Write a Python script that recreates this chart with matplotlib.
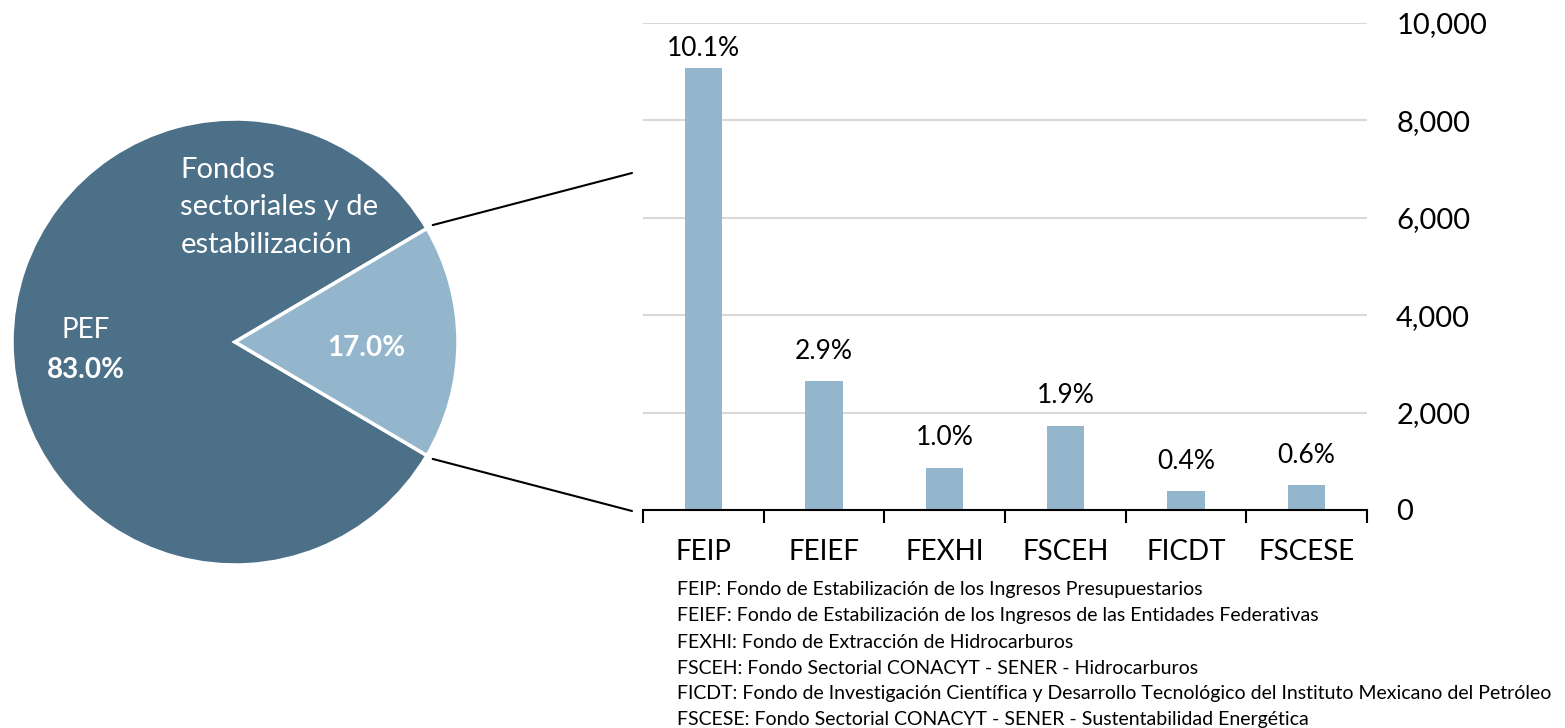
import numpy as np
import matplotlib
matplotlib.use("Agg")
import matplotlib.pyplot as plt
from matplotlib.patches import ConnectionPatch

plt.rcParams["font.family"] = ["Lato", "DejaVu Sans"]

# pie data
pie_labels = ["PEF", "Fondos sectoriales y de estabilización"]
pie_shares = [83.0, 17.0]

# bar data (millones de pesos)
funds = ["FEIP", "FEIEF", "FEXHI", "FSCEH", "FICDT", "FSCESE"]
amounts = [9080, 2640, 870, 1730, 380, 510]
pct_labels = ["10.1%", "2.9%", "1.0%", "1.9%", "0.4%", "0.6%"]

notes = [
    "FEIP: Fondo de Estabilización de los Ingresos Presupuestarios",
    "FEIEF: Fondo de Estabilización de los Ingresos de las Entidades Federativas",
    "FEXHI: Fondo de Extracción de Hidrocarburos",
    "FSCEH: Fondo Sectorial CONACYT - SENER - Hidrocarburos",
    "FICDT: Fondo de Investigación Científica y Desarrollo Tecnológico del Instituto Mexicano del Petróleo",
    "FSCESE: Fondo Sectorial CONACYT - SENER - Sustentabilidad Energética",
]

dark = "#4D7089"
light = "#94B6CD"

W, H = 1565, 728
fig = plt.figure(figsize=(W / 100, H / 100), dpi=100)

def px_rect(left, top, width, height):
    return [left / W, (H - top - height) / H, width / W, height / H]

# ---- pie ----
axp = fig.add_axes(px_rect(12, 119, 446, 446))
half = pie_shares[1] / 100 * 180
wedges, _ = axp.pie(pie_shares, colors=[dark, light], startangle=half,
                    counterclock=True, radius=1,
                    wedgeprops=dict(edgecolor="white", linewidth=2.5))
axp.set_xlim(-1, 1)
axp.set_ylim(-1, 1)
axp.set_aspect("equal")
axp.axis("off")

axp.text(-0.245, 0.605, "Fondos\nsectoriales y de\nestabilización", color="white",
         fontsize=21, ha="left", va="center", linespacing=1.55)
axp.text(-0.67, 0.055, pie_labels[0], color="white", fontsize=20, ha="center", va="center")
axp.text(-0.67, -0.125, f"{pie_shares[0]:.1f}%", color="white", fontsize=20,
         fontweight="bold", ha="center", va="center")
axp.text(0.59, -0.025, f"{pie_shares[1]:.1f}%", color="white", fontsize=20,
         fontweight="bold", ha="center", va="center")

# ---- bars ----
axb = fig.add_axes(px_rect(643, 22.7, 724, 487.3))
x = np.arange(len(funds))
axb.bar(x, amounts, width=0.31, color=light, zorder=3)
axb.set_xlim(-0.5, len(funds) - 0.5)
axb.set_ylim(0, 10000)
axb.set_yticks(np.arange(0, 10001, 2000))
axb.set_yticklabels([f"{v:,}" for v in range(0, 10001, 2000)], fontsize=21)
axb.yaxis.tick_right()
axb.tick_params(axis="y", length=0, pad=21)
axb.set_xticks(x)
axb.set_xticklabels(funds, fontsize=20)
axb.set_xticks(np.arange(-0.5, len(funds)), minor=True)
axb.tick_params(axis="x", which="major", length=0, pad=21)
axb.tick_params(axis="x", which="minor", length=9, width=1.5, direction="out", color="black")
axb.grid(axis="y", color="#D9D9D9", linewidth=1.5, zorder=0)
for s in ["top", "left", "right"]:
    axb.spines[s].set_visible(False)
axb.spines["bottom"].set_linewidth(1.5)
axb.spines["bottom"].set_zorder(4)
for xi, v, lab in zip(x, amounts, pct_labels):
    axb.text(xi, min(v + 610, 9480), lab, ha="center", va="center", fontsize=19)

# ---- connector lines ----
theta = np.deg2rad(half)
for sign, end in [(1, (632, 173)), (-1, (632, 511))]:
    start = (1.03 * np.cos(theta), sign * 1.03 * np.sin(theta))
    con = ConnectionPatch(xyA=start, coordsA=axp.transData,
                          xyB=(end[0] / W, 1 - end[1] / H), coordsB=fig.transFigure,
                          color="black", linewidth=1.5)
    fig.add_artist(con)

# ---- footnotes ----
for i, line in enumerate(notes):
    fig.text(677 / W, 1 - (590 + i * 26.0) / H, line, fontsize=14, ha="left", va="center")

fig.savefig("out.png", dpi=100)
